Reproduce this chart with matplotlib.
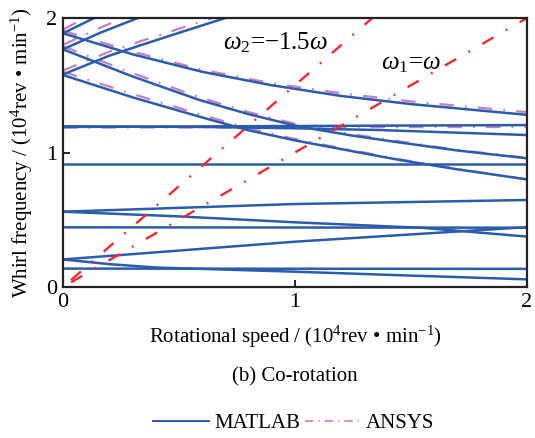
import matplotlib
matplotlib.use("Agg")
import matplotlib.pyplot as plt
from matplotlib.lines import Line2D

plt.rcParams['font.family'] = ['Liberation Serif', 'DejaVu Serif']
plt.rcParams['mathtext.fontset'] = 'custom'
plt.rcParams['mathtext.rm'] = 'Liberation Serif'
plt.rcParams['mathtext.it'] = 'Liberation Serif:italic'

# MATLAB Campbell curves (speed, whirl frequency), units 10^4 rev/min
matlab_x = [
    [0, 2.0],                                   # flat 0.14
    [0, 0.2, 0.4, 1.0, 1.5, 2.0],               # backward from 0.205
    [0, 1.0, 2.0],                              # forward from 0.205
    [0, 2.0],                                   # flat 0.444
    [0, 0.5, 1.0, 1.55, 2.0],                   # backward from 0.56
    [0, 1.0, 2.0],                              # forward from 0.56
    [0, 2.0],                                   # flat 0.914
    [0, 2.0],                                   # flat 1.19
    [0, 0.6, 1.0, 1.363, 2.0],                  # slow backward 1.19
    [0, 0.3, 0.589, 0.8, 1.0, 1.2, 1.449, 1.7, 2.0],   # backward from 1.576
    [0, 0.2, 0.33, 0.5, 0.7],                   # forward from 1.58
    [0, 0.3, 0.589, 0.8, 1.02, 1.25, 1.45, 1.7, 2.0],  # backward from 1.767
    [0, 0.16, 0.33],                            # forward from 1.767
    [0, 0.3, 0.6, 0.9, 1.2, 1.5, 2.0],          # backward from 1.886
    [0, 0.14],                                  # forward from 1.886
]
matlab_y = [
    [0.137, 0.135],
    [0.205, 0.17, 0.145, 0.114, 0.085, 0.057],
    [0.205, 0.337, 0.445],
    [0.444, 0.441],
    [0.56, 0.525, 0.481, 0.44, 0.375],
    [0.56, 0.617, 0.647],
    [0.914, 0.914],
    [1.19, 1.204],
    [1.195, 1.19, 1.18, 1.167, 1.13],
    [1.576, 1.41, 1.266, 1.165, 1.09, 1.025, 0.945, 0.875, 0.80],
    [1.58, 1.72, 1.795, 1.89, 2.0],
    [1.767, 1.565, 1.39, 1.285, 1.192, 1.125, 1.075, 1.015, 0.957],
    [1.767, 1.89, 2.005],
    [1.886, 1.73, 1.60, 1.50, 1.42, 1.36, 1.28],
    [1.886, 2.005],
]

# ANSYS curves (only visible where they separate from MATLAB)
ansys_x = [
    [0, 2.0],
    [0, 0.3, 0.589, 0.8, 1.0, 1.2, 1.449, 1.7, 2.0],
    [0, 0.2, 0.33, 0.5, 0.68],
    [0, 0.3, 0.589, 0.8, 1.02, 1.25, 1.45, 1.7, 2.0],
    [0, 0.15, 0.3],
    [0, 0.3, 0.6, 0.9, 1.2, 1.5, 2.0],
    [0, 0.12],
]
ansys_y = [
    [1.185, 1.19],
    [1.60, 1.435, 1.285, 1.18, 1.10, 1.032, 0.95, 0.878, 0.80],
    [1.61, 1.75, 1.825, 1.92, 2.02],
    [1.79, 1.59, 1.41, 1.30, 1.205, 1.135, 1.083, 1.02, 0.96],
    [1.80, 1.92, 2.03],
    [1.905, 1.75, 1.615, 1.515, 1.44, 1.38, 1.30],
    [1.915, 2.02],
]

# excitation lines
speed_line = [0.035, 2.0]
ratio_1 = 1.0
ratio_2 = 1.5

blue = "#2B5CAB"
pink = "#C57FC2"
red = "#F22A2E"

fig = plt.figure(figsize=(5.35, 4.38), dpi=100)
ax = fig.add_axes([0.1178, 0.3447, 0.8672, 0.6142])

for xs, ys in zip(ansys_x, ansys_y):
    ax.plot(xs, ys, color=pink, lw=1.6, dashes=(6.5, 5, 0.8, 5))
for xs, ys in zip(matlab_x, matlab_y):
    ax.plot(xs, ys, color=blue, lw=1.8)

for r in (ratio_1, ratio_2):
    ax.plot(speed_line, [r * v for v in speed_line], color=red, lw=1.7,
            dashes=(5.5, 6, 0.8, 6))

ax.text(0.916, 1.814, r"$\omega_2$=−1.5$\omega$", fontsize=18,
        ha="center", va="center")
ax.text(1.50, 1.66, r"$\omega_1$=$\omega$", fontsize=18,
        ha="center", va="center")

ax.set_xlim(0, 2)
ax.set_ylim(0, 2)
ax.set_xticks([0, 1, 2])
ax.set_yticks([0, 1, 2])
ax.tick_params(direction="in", length=5, width=1.2, labelsize=16, pad=4)
for s in ax.spines.values():
    s.set_linewidth(1.6)
    s.set_color("#222222")

ax.set_xlabel(r"Rotational speed / (10$^{4}$rev • min$^{-1}$)", fontsize=15,
              labelpad=9)
ax.set_ylabel(r"Whirl frequency / (10$^{4}$rev • min$^{-1}$)", fontsize=15,
              labelpad=8)

fig.text(0.551, 0.139, "(b) Co-rotation", fontsize=15, ha="center", va="center")

handles = [Line2D([], [], color=blue, lw=1.4),
           Line2D([], [], color=pink, lw=1.2, dashes=(5, 3, 0.8, 3))]
fig.legend(handles, ["MATLAB", "ANSYS"], loc="center", ncol=2,
           bbox_to_anchor=(0.549, 0.033), frameon=False, fontsize=15,
           handlelength=2.7, handletextpad=0.25, columnspacing=0.2)

fig.savefig("out.png", dpi=100)
